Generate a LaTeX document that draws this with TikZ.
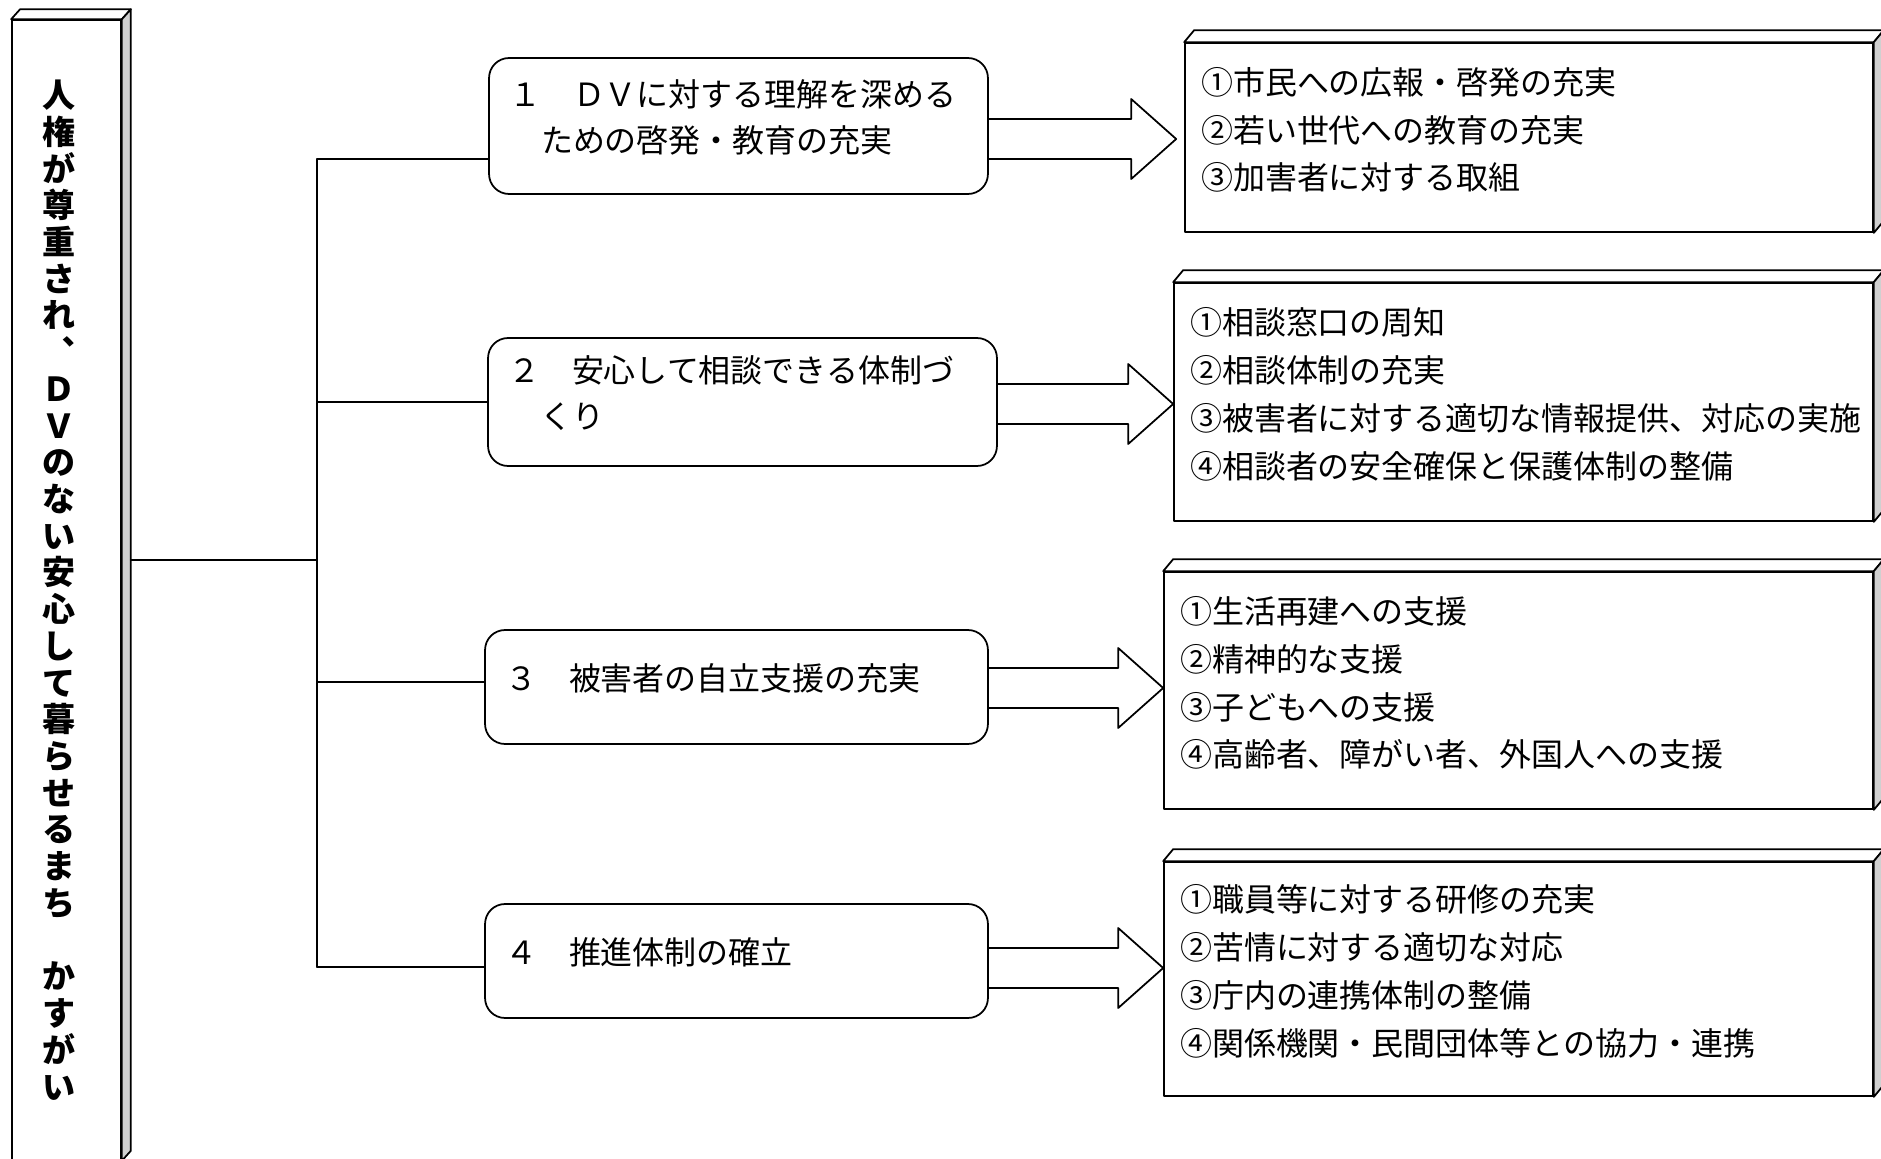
\documentclass[tikz,border=0pt]{standalone}
\usepackage{fontspec}
\setmainfont{Noto Sans CJK JP}
\usetikzlibrary{calc}
\definecolor{sidegray}{RGB}{208,208,208}

% top and right faces of a box node
\newcommand{\boxfaces}[3]{%
  \draw[fill=white] (#1.north west) -- ++(#2,-#3) -- ($(#1.north east)+(#2,-#3)$) -- (#1.north east) -- cycle;
  \draw[fill=sidegray] (#1.north east) -- ++(#2,-#3) -- ($(#1.south east)+(#2,-#3)$) -- (#1.south east) -- cycle;}
% wide outline arrow from #1 to the tip #2
\newcommand{\bigarrow}[2]{%
  \draw (#1) ++(0,-20) -- ($(#2)+(-45,-20)$) -- ($(#2)+(-45,-40)$) -- (#2)
    -- ($(#2)+(-45,40)$) -- ($(#2)+(-45,20)$) -- ($(#1)+(0,20)$);}
% extra depth under the last line, lifts the text a little
\newcommand{\lift}[1]{\rule[-#1]{0pt}{#1}}

\begin{document}
\begin{tikzpicture}[line cap=round,line join=round,x=0.02cm,y=-0.02cm,line width=1pt,
  goalbox/.style={draw,fill=white,align=left,inner xsep=0.61cm,inner ysep=0pt,text width=0.96cm,minimum height=22.8cm,
    font=\bfseries\fontsize{18.8pt}{20.9pt}\selectfont},
  midbox/.style={draw,rounded corners=0.4cm,align=left,inner xsep=0.4cm,inner ysep=0pt,
    font=\fontsize{18.2pt}{26.2pt}\selectfont},
  listbox/.style={draw,fill=white,align=left,inner xsep=0.32cm,inner ysep=0pt,
    font=\fontsize{18.2pt}{27.3pt}\selectfont}]
\useasboundingbox (0,0) rectangle (1881,1159);
\clip (0,0) rectangle (1881,1159);

% goal
\node[goalbox] (goal) at (66.5,590) {人\\権\\が\\尊\\重\\さ\\れ\\︑\\Ｄ\\Ｖ\\の\\な\\い\\安\\心\\し\\て\\暮\\ら\\せ\\る\\ま\\ち\\　\\か\\す\\が\\い};
\boxfaces{goal}{9}{10}

% basic directions
\node[midbox,text width=9.18cm,minimum height=2.72cm] (m1) at (738.5,126) {１　ＤＶに対する理解を深める\\　ための啓発・教育の充実\lift{0.4cm}};
\node[midbox,text width=9.38cm,minimum height=2.56cm] (m2) at (742.5,402) {２　安心して相談できる体制づ\\　くり\lift{0.4cm}};
\node[midbox,text width=9.26cm,minimum height=2.28cm] (m3) at (736.5,687) {３　被害者の自立支援の充実\lift{0.4cm}};
\node[midbox,text width=9.26cm,minimum height=2.28cm] (m4) at (736.5,961) {４　推進体制の確立\lift{0.4cm}};

% measures
\node[listbox,text width=13.12cm,minimum height=3.78cm] (r1) at (1529,137.5) {①市民への広報・啓発の充実\\②若い世代への教育の充実\\③加害者に対する取組\lift{0.36cm}};
\node[listbox,text width=13.34cm,minimum height=4.76cm] (r2) at (1523.5,402) {①相談窓口の周知\\②相談体制の充実\\③被害者に対する適切な情報提供、対応の実施\\④相談者の安全確保と保護体制の整備\lift{0.36cm}};
\node[listbox,text width=13.54cm,minimum height=4.74cm] (r3) at (1518.5,690.5) {①生活再建への支援\\②精神的な支援\\③子どもへの支援\\④高齢者、障がい者、外国人への支援\lift{0.36cm}};
\node[listbox,text width=13.54cm,minimum height=4.68cm] (r4) at (1518.5,979) {①職員等に対する研修の充実\\②苦情に対する適切な対応\\③庁内の連携体制の整備\\④関係機関・民間団体等との協力・連携\lift{0.36cm}};
\foreach \i in {1,...,4} {\boxfaces{r\i}{10}{12}}

% tree
\coordinate (hub) at (317,560);
\coordinate (b1) at (317,159);
\coordinate (b2) at (317,402);
\coordinate (b3) at (317,682);
\coordinate (b4) at (317,967);
\coordinate (goalside) at ([xshift=0.18cm]goal.east);
\draw (goalside |- hub) -- (hub);
\draw (b1) -- (b4);
\foreach \i in {1,...,4} \draw (b\i) -- (b\i -| m\i.west);

% arrows
\coordinate (a1) at (0,139);
\coordinate (a2) at (0,404);
\coordinate (a3) at (0,688);
\coordinate (a4) at (0,968);
\path (r1.west |- a1) ++(-8,0) coordinate (t1);
\path (r2.west |- a2) coordinate (t2);
\path (r3.west |- a3) coordinate (t3);
\path (r4.west |- a4) coordinate (t4);
\foreach \i in {1,...,4} {\bigarrow{m\i.east |- a\i}{t\i}}
\end{tikzpicture}
\end{document}
